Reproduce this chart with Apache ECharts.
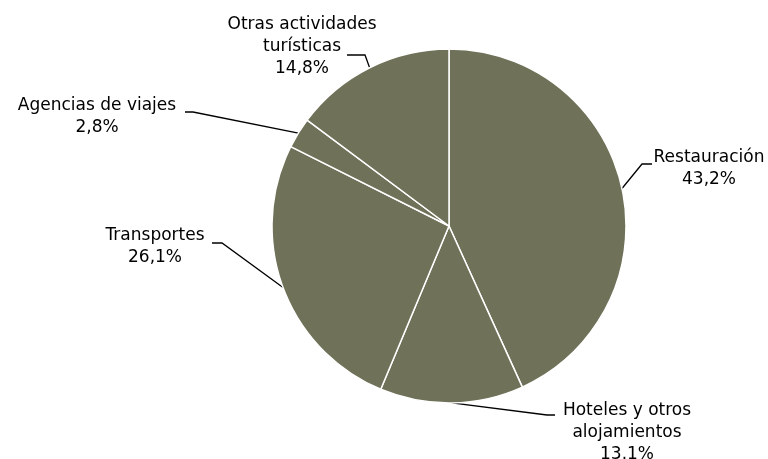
<!DOCTYPE html>
<html>
<head>
<meta charset="utf-8">
<script src="https://cdn.jsdelivr.net/npm/echarts@6/dist/echarts.min.js"></script>
<style>
    html, body { margin: 0; padding: 0; background: #fff; }
    #chart { width: 768px; height: 459px; }
</style>
</head>
<body>
<div id="chart"></div>
<script>
var categories = ['Restauración', 'Hoteles y otros\nalojamientos', 'Transportes', 'Agencias de viajes', 'Otras actividades\nturísticas'];
var values = [43.2, 13.1, 26.1, 2.8, 14.8];
var valueLabels = ['43,2%', '13.1%', '26,1%', '2,8%', '14,8%'];

// centro de cada etiqueta
var labelPos = [[709, 169], [627, 433], [155, 247], [97, 117], [302, 47]];
// donde termina la linea guia (relativo al centro de la etiqueta) y largo del tramo horizontal
var lineEnd = [[-57, -5], [-72, -18], [57, -4], [88, -5], [45, 8]];
var stubLen = [-10, -8, 10, 8, 18];

var myChart = echarts.init(document.getElementById('chart'));

var data = [];
for (var i = 0; i < categories.length; i++) {
    data.push({ name: categories[i], value: values[i] });
}

var option = {
    animation: false,
    series : [ {
        type: 'pie',
        radius: 177,
        center: [449, 226],
        startAngle: 90,
        clockwise: true,
        data: data,
        itemStyle: {
            color: '#6f7158',
            borderColor: '#ffffff',
            borderWidth: 1.5
        },
        label: {
            show: true,
            position: 'outside',
            overflow: 'none',
            color: '#000',
            fontFamily: 'DejaVu Sans',
            fontSize: 17,
            lineHeight: 22,
            align: 'center',
            formatter: function (p) {
                return p.name + '\n' + valueLabels[p.dataIndex];
            }
        },
        labelLine: {
            show: true,
            length: 15,
            length2: 10,
            lineStyle: { color: '#000', width: 1.3 }
        },
        labelLayout: function (params) {
            var k = params.dataIndex;
            var pos = labelPos[k];
            var ex = pos[0] + lineEnd[k][0];
            var ey = pos[1] + lineEnd[k][1];
            var start = params.labelLinePoints[0];
            return {
                x: pos[0],
                y: pos[1],
                align: 'center',
                verticalAlign: 'middle',
                labelLinePoints: [start, [ex + stubLen[k], ey], [ex, ey]]
            };
        }
    } ]
};

myChart.setOption(option);
</script>
</body>
</html>
